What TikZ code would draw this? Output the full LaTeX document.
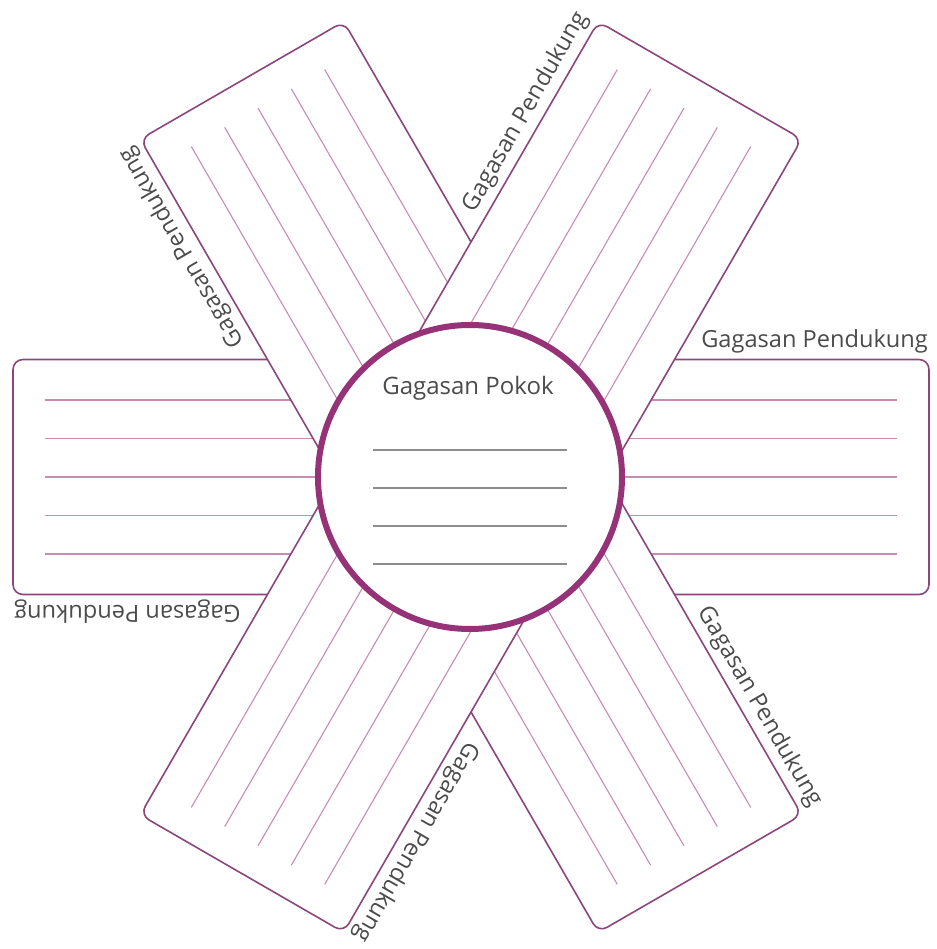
\documentclass[tikz,border=0pt]{standalone}
\usepackage{fontspec}
\setmainfont{Open Sans}
\definecolor{bandc}{RGB}{140,70,125}
\definecolor{linec}{RGB}{200,140,180}
\definecolor{circc}{RGB}{150,50,120}
\definecolor{grayline}{RGB}{140,140,140}
\definecolor{textc}{RGB}{75,75,75}
\begin{document}
\begin{tikzpicture}[x=1pt,y=1pt,
  band/.style={fill=white, draw=bandc, line width=1.6pt, rounded corners=10pt},
  ruling/.style={draw=linec, line width=1.1pt},
  cline/.style={draw=grayline, line width=1.1pt},
  lbl/.style={font=\fontsize{23.6}{23.6}\selectfont, text=textc, inner sep=0pt, anchor=base east, transform shape},
  ttl/.style={font=\fontsize{24}{24}\selectfont, text=textc, inner sep=0pt, anchor=base}]
\useasboundingbox (-471,-472) rectangle (465,477);
\foreach \ang in {0,120,60} {
  \begin{scope}[rotate=\ang]
    \draw[band] (-458,-117.5) rectangle (458,117.5);
    \foreach \k in {-2,...,2} \draw[ruling] (-426,\k*38.5) -- (426,\k*38.5);
  \end{scope}
}
\foreach \ang in {0,60,...,300} {
  \begin{scope}[rotate=\ang]
    \node[lbl] (lbl\ang) at (457,129) {Gagasan Pendukung};
  \end{scope}
}
\node[circle, draw=circc, line width=6pt, fill=white, minimum size=304pt, inner sep=0pt] (main) at (-1,0) {};
\node[ttl] (title) at (-3,82) {Gagasan Pokok};
\foreach \yy in {27,-11,-49,-87} \draw[cline] (-98,\yy) -- (96,\yy);
\end{tikzpicture}
\end{document}
